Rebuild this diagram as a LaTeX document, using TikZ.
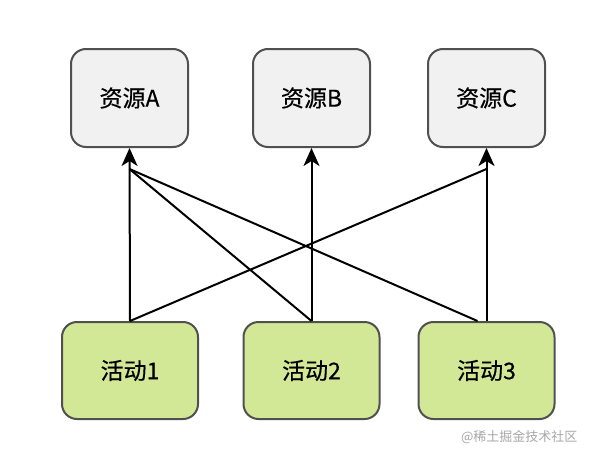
\documentclass[tikz,border=0pt]{standalone}
\usepackage{fontspec}
\newfontfamily\cjk[FakeBold=0.5]{Noto Sans CJK SC}
\newfontfamily\cjkw{Noto Sans CJK SC}
\usetikzlibrary{arrows.meta,calc}
\definecolor{resfill}{HTML}{F1F1F1}
\definecolor{actfill}{HTML}{D3E896}
\definecolor{boxline}{HTML}{505050}
\definecolor{wmark}{HTML}{A8A8A8}
\tikzset{
  resbox/.style={draw=boxline, line width=2pt, fill=resfill, rounded corners=15pt,
    minimum width=117pt, minimum height=98pt, inner sep=0pt,
    font=\cjk\fontsize{23}{26}\selectfont},
  actbox/.style={draw=boxline, line width=2pt, fill=actfill, rounded corners=15pt,
    minimum width=136pt, minimum height=97pt, inner sep=0pt,
    font=\cjk\fontsize{23}{26}\selectfont},
  arr/.style={line width=2pt, black, -{Stealth[length=18pt,width=16pt,inset=5pt]}},
  ln/.style={line width=2pt, black}
}
\begin{document}
\begin{tikzpicture}[x=1pt,y=-1pt]
\useasboundingbox (0,0) rectangle (594,458);
\fill[white] (0,0) rectangle (594,458);
\node[resbox] (A) at (129.5,98) {资源A};
\node[resbox] (B) at (311.5,98) {资源B};
\node[resbox] (C) at (486.5,98) {资源C};
\node[actbox] (a1) at (130,370.5) {活动1};
\node[actbox] (a2) at (311.5,370.5) {活动2};
\node[actbox] (a3) at (486.5,370.5) {活动3};
\coordinate (jA) at ($(A.south)+(0,21)$);
\coordinate (jC) at ($(C.south)+(0,21)$);
\coordinate (a3l) at ($(a3.north)+(-9,0)$);
\draw[ln] (a2.north) -- (jA);
\draw[ln] (a3l) -- (jA);
\draw[ln] (a1.north) -- (jC);
\draw[arr] (a1.north) -- (A.south);
\draw[arr] (a2.north) -- (B.south);
\draw[arr] (a3.north) -- (C.south);
\node[font=\cjkw\fontsize{13}{15}\selectfont, text=wmark, anchor=east] (wm) at (581,437) {@稀土掘金技术社区};
\end{tikzpicture}
\end{document}
